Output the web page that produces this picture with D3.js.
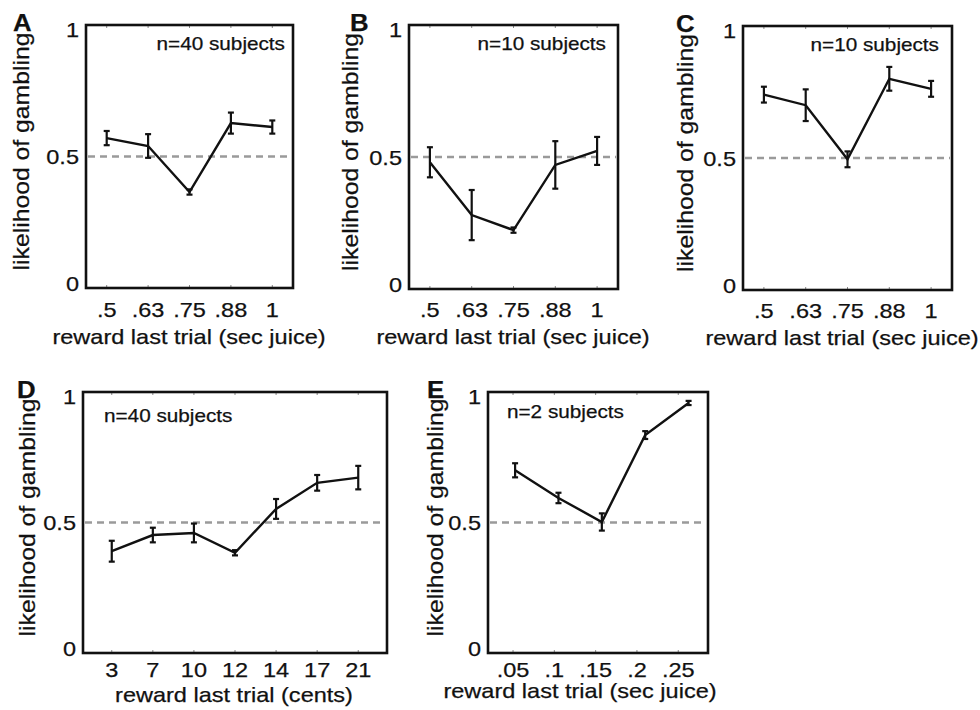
<!DOCTYPE html>
<html>
<head>
<meta charset="utf-8">
<style>
  body { margin: 0; background: #fff; }
  text { font-family: "Liberation Sans", Arial, Helvetica, sans-serif; fill: #111; stroke: #111; stroke-width: 0.25px; }
</style>
</head>
<body>
<div id="fig"></div>
<script src="https://d3js.org/d3.v7.min.js"></script>
<script>
// tick labels
var juiceTicks = [".5", ".63", ".75", ".88", "1"];
var centTicks = ["3", "7", "10", "12", "14", "17", "21"];
var smallJuiceTicks = [0.05, 0.1, 0.15, 0.2, 0.25];
var smallJuiceX = [0.0525, 0.105, 0.1575, 0.21, 0.2625];

// panel A (n=40)
var aMean = [0.57, 0.54, 0.365, 0.627, 0.612];
var aErr  = [0.027, 0.045, 0.01, 0.04, 0.025];
// panel B (n=10)
var bMean = [0.48, 0.28, 0.223, 0.47, 0.523];
var bErr  = [0.057, 0.095, 0.01, 0.09, 0.053];
// panel C (n=10)
var cMean = [0.74, 0.70, 0.495, 0.80, 0.762];
var cErr  = [0.03, 0.06, 0.03, 0.045, 0.03];
// panel D (n=40, cents)
var dMean = [0.39, 0.452, 0.46, 0.384, 0.552, 0.652, 0.672];
var dErr  = [0.04, 0.028, 0.036, 0.01, 0.038, 0.03, 0.045];
// panel E (n=2, small juice)
var eMean = [0.70, 0.594, 0.502, 0.835, 0.958];
var eErr  = [0.027, 0.02, 0.033, 0.015, 0.008];

var yLabel = "likelihood of gambling";
var yTicks = [0, 0.5, 1];

var svg = d3.select("#fig").append("svg")
    .attr("width", 980)
    .attr("height", 710);

// frame boxes for each panel
var panels = [
  {letter: "A", x0: 86,  y0: 25,  x1: 293, y1: 288, ticks: juiceTicks, mean: aMean, err: aErr,
   n: "n=40 subjects", nAnchor: "end", nx: 285, ny: 50, lx: 13, ylx: 29, xlab: "reward last trial (sec juice)", xlx: 189, tb: 317, xb: 344},
  {letter: "B", x0: 409, y0: 25,  x1: 618, y1: 289, ticks: juiceTicks, mean: bMean, err: bErr,
   n: "n=10 subjects", nAnchor: "end", nx: 606, ny: 50, lx: 350, ylx: 358, xlab: "reward last trial (sec juice)", xlx: 513, tb: 317, xb: 344},
  {letter: "C", x0: 743, y0: 26,  x1: 952, y1: 290, ticks: juiceTicks, mean: cMean, err: cErr,
   n: "n=10 subjects", nAnchor: "end", nx: 939, ny: 51, lx: 676, ylx: 693, xlab: "reward last trial (sec juice)", xlx: 842, tb: 318, xb: 345},
  {letter: "D", x0: 83,  y0: 392, x1: 387, y1: 653, ticks: centTicks, mean: dMean, err: dErr, pad: 0.7,
   n: "n=40 subjects", nAnchor: "start", nx: 104, ny: 422, lx: 17, ylx: 35, xlab: "reward last trial (cents)", xlx: 234, tb: 677, xb: 702},
  {letter: "E", x0: 488, y0: 392, x1: 708, y1: 653, ticks: null, mean: eMean, err: eErr,
   n: "n=2 subjects", nAnchor: "start", nx: 507, ny: 418, lx: 427, ylx: 443, xlab: "reward last trial (sec juice)", xlx: 580, tb: 677, xb: 698}
];

panels.forEach(function(p) {
  var g = svg.append("g");

  var y = d3.scaleLinear().domain([0, 1]).range([p.y1, p.y0]);
  var x, xs, tickPos, tickText;
  if (p.ticks) {
    x = d3.scalePoint().domain(p.ticks).range([p.x0, p.x1]).padding(p.pad || 0.5);
    xs = p.ticks.map(function(t) { return x(t); });
    tickPos = xs;
    tickText = p.ticks;
  } else {
    x = d3.scaleLinear().domain([0.0197, 0.286]).range([p.x0, p.x1]);
    xs = smallJuiceX.map(function(v) { return x(v); });
    tickPos = smallJuiceTicks.map(function(v) { return x(v); });
    tickText = smallJuiceTicks.map(function(v) { return d3.format(".2~f")(v).replace(/^0/, ""); });
  }

  // dashed chance line
  g.append("line")
      .attr("x1", p.x0 + 2).attr("x2", p.x1 - 2)
      .attr("y1", y(0.5)).attr("y2", y(0.5))
      .attr("stroke", "#9a9a9a")
      .attr("stroke-width", 2.5)
      .attr("stroke-dasharray", "7,5");

  // small inner ticks
  tickPos.forEach(function(tx) {
    g.append("line").attr("x1", tx).attr("x2", tx).attr("y1", p.y1).attr("y2", p.y1 - 3)
        .attr("stroke", "#888").attr("stroke-width", 1);
    g.append("line").attr("x1", tx).attr("x2", tx).attr("y1", p.y0).attr("y2", p.y0 + 3)
        .attr("stroke", "#888").attr("stroke-width", 1);
  });

  // frame
  g.append("rect")
      .attr("x", p.x0).attr("y", p.y0)
      .attr("width", p.x1 - p.x0).attr("height", p.y1 - p.y0)
      .attr("fill", "none")
      .attr("stroke", "#111")
      .attr("stroke-width", 2.6);

  var pts = p.mean.map(function(m, i) { return {x: xs[i], m: m, e: p.err[i]}; });

  // error bars
  var eb = g.append("g").attr("stroke", "#111").attr("stroke-width", 2.2);
  pts.forEach(function(d) {
    eb.append("line").attr("x1", d.x).attr("x2", d.x).attr("y1", y(d.m - d.e)).attr("y2", y(d.m + d.e));
    eb.append("line").attr("x1", d.x - 3).attr("x2", d.x + 3).attr("y1", y(d.m - d.e)).attr("y2", y(d.m - d.e));
    eb.append("line").attr("x1", d.x - 3).attr("x2", d.x + 3).attr("y1", y(d.m + d.e)).attr("y2", y(d.m + d.e));
  });

  // mean line
  g.append("path")
      .datum(pts)
      .attr("fill", "none")
      .attr("stroke", "#111")
      .attr("stroke-width", 2.4)
      .attr("d", d3.line().x(function(d) { return d.x; }).y(function(d) { return y(d.m); }));

  // y tick labels (0 and 1 nudged inward a bit, as in the original)
  yTicks.forEach(function(t) {
    var nudge = t === 1 ? 4 : (t === 0 ? -5 : 0);
    g.append("text").attr("class", "h")
        .attr("x", p.x0 - 7)
        .attr("y", y(t) + nudge)
        .attr("dy", "0.36em")
        .attr("text-anchor", "end")
        .style("font-size", "21px")
        .text(t === 0.5 ? "0.5" : t);
  });

  // x tick labels
  tickPos.forEach(function(tx, i) {
    g.append("text").attr("class", "h")
        .attr("x", tx)
        .attr("y", p.tb)
        .attr("text-anchor", "middle")
        .style("font-size", "21px")
        .text(tickText[i]);
  });

  // x axis label
  g.append("text").attr("class", "h")
      .attr("x", p.xlx)
      .attr("y", p.xb)
      .attr("text-anchor", "middle")
      .style("font-size", "21px")
      .text(p.xlab);

  // y axis label
  g.append("text").attr("class", "v")
      .attr("transform", "translate(" + p.ylx + "," + ((p.y0 + p.y1) / 2 - 5) + ") rotate(-90)")
      .attr("text-anchor", "middle")
      .style("font-size", "21.5px")
      .text(yLabel);

  // n= label
  g.append("text").attr("class", "h")
      .attr("x", p.nx)
      .attr("y", p.ny)
      .attr("text-anchor", p.nAnchor)
      .style("font-size", "18.5px")
      .text(p.n);

  // panel letter
  g.append("text").attr("class", "h")
      .attr("x", p.lx)
      .attr("y", p.y0 + 6)
      .style("font-size", "23px")
      .style("font-weight", "bold")
      .text(p.letter);
});

// the original figure is a little wider than its type, stretch text to match
svg.selectAll("text.h").each(function() {
  var w = this.getComputedTextLength();
  this.setAttribute("textLength", w * 1.12);
  this.setAttribute("lengthAdjust", "spacingAndGlyphs");
});
svg.selectAll("text.v").each(function() {
  var w = this.getComputedTextLength();
  this.setAttribute("textLength", w * 1.15);
  this.setAttribute("lengthAdjust", "spacingAndGlyphs");
});
</script>
</body>
</html>
